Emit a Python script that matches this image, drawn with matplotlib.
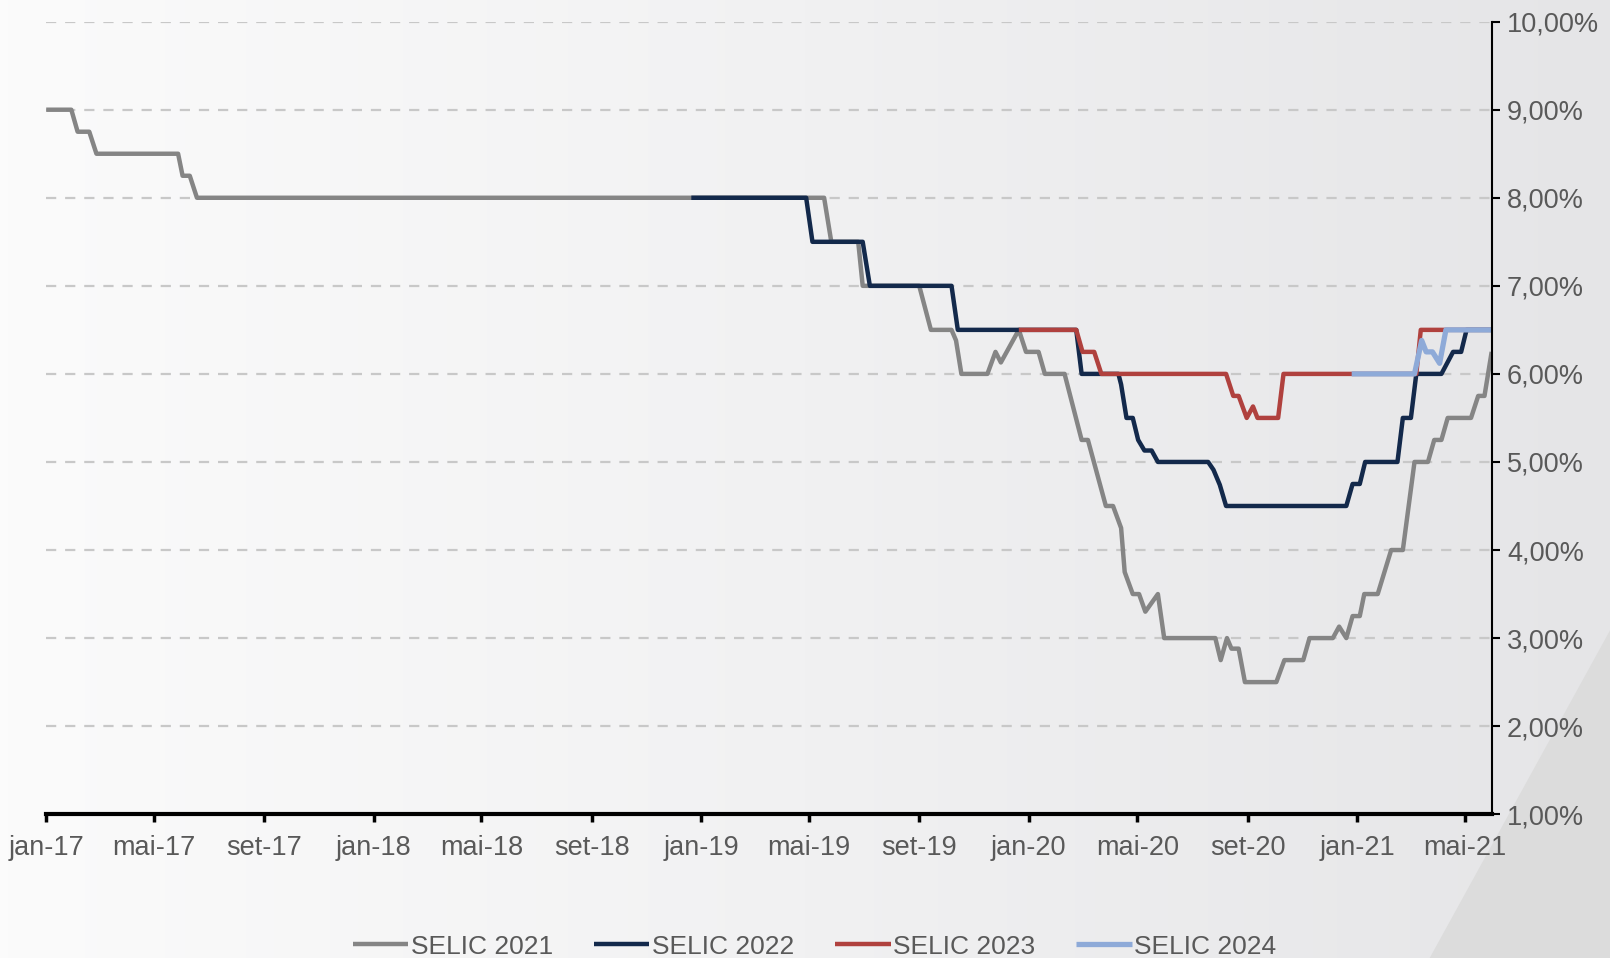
import matplotlib
matplotlib.use('Agg')
import numpy as np
import pandas as pd
import matplotlib.pyplot as plt
import matplotlib.dates as mdates
from matplotlib.patches import Polygon
from matplotlib.ticker import FuncFormatter, MultipleLocator

plt.rcParams['font.family'] = ['Liberation Sans', 'DejaVu Sans']

# Focus median expectations for SELIC at year end (% a.a.)
gray_dates = ['2017-01-01', '2017-01-29', '2017-02-05', '2017-02-18', '2017-02-26', '2017-05-28',
              '2017-06-02', '2017-06-10', '2017-06-18', '2019-05-18', '2019-05-26', '2019-06-25',
              '2019-06-30', '2019-09-01', '2019-09-14', '2019-10-07', '2019-10-12', '2019-10-18',
              '2019-11-16', '2019-11-25', '2019-12-01', '2019-12-21', '2019-12-29', '2020-01-12',
              '2020-01-19', '2020-02-10', '2020-02-29', '2020-03-07', '2020-03-27', '2020-04-04',
              '2020-04-13', '2020-04-17', '2020-04-26', '2020-05-03', '2020-05-10', '2020-05-24',
              '2020-05-31', '2020-07-27', '2020-08-02', '2020-08-09', '2020-08-14', '2020-08-22',
              '2020-08-29', '2020-10-03', '2020-10-12', '2020-11-02', '2020-11-09', '2020-12-05',
              '2020-12-12', '2020-12-20', '2020-12-27', '2021-01-04', '2021-01-09', '2021-01-24',
              '2021-02-08', '2021-02-21', '2021-03-06', '2021-03-21', '2021-03-28', '2021-04-05',
              '2021-04-12', '2021-05-08', '2021-05-16', '2021-05-23', '2021-05-31']
gray_vals = [9.0, 9.0, 8.75, 8.75, 8.5, 8.5, 8.25, 8.25, 8.0, 8.0, 7.5, 7.5, 7.0, 7.0, 6.5, 6.5,
             6.38, 6.0, 6.0, 6.25, 6.13, 6.5, 6.25, 6.25, 6.0, 6.0, 5.25, 5.25, 4.5, 4.5, 4.25,
             3.75, 3.5, 3.5, 3.3, 3.5, 3.0, 3.0, 2.75, 3.0, 2.88, 2.88, 2.5, 2.5, 2.75, 2.75, 3.0,
             3.0, 3.13, 3.0, 3.25, 3.25, 3.5, 3.5, 4.0, 4.0, 5.0, 5.0, 5.25, 5.25, 5.5, 5.5, 5.75,
             5.75, 6.25]

navy_dates = ['2018-12-21', '2019-04-28', '2019-05-05', '2019-06-30', '2019-07-08', '2019-10-07',
              '2019-10-14', '2020-02-23', '2020-02-29', '2020-04-10', '2020-04-13', '2020-04-19',
              '2020-04-26', '2020-05-02', '2020-05-09', '2020-05-17', '2020-05-24', '2020-07-19',
              '2020-07-25', '2020-08-01', '2020-08-08', '2020-12-20', '2020-12-27', '2021-01-04',
              '2021-01-10', '2021-02-15', '2021-02-21', '2021-03-02', '2021-03-08', '2021-04-05',
              '2021-04-18', '2021-04-27', '2021-05-03', '2021-05-31']
navy_vals = [8.0, 8.0, 7.5, 7.5, 7.0, 7.0, 6.5, 6.5, 6.0, 6.0, 5.88, 5.5, 5.5, 5.25, 5.13, 5.13,
             5.0, 5.0, 4.91, 4.74, 4.5, 4.5, 4.75, 4.75, 5.0, 5.0, 5.5, 5.5, 6.0, 6.0, 6.25, 6.25,
             6.5, 6.5]

red_dates = ['2019-12-21', '2020-02-23', '2020-03-01', '2020-03-14', '2020-03-22', '2020-08-08',
             '2020-08-16', '2020-08-22', '2020-08-31', '2020-09-07', '2020-09-12', '2020-10-05',
             '2020-10-11', '2021-03-08', '2021-03-13', '2021-05-31']
red_vals = [6.5, 6.5, 6.25, 6.25, 6.0, 6.0, 5.75, 5.75, 5.5, 5.63, 5.5, 5.5, 6.0, 6.0, 6.5, 6.5]

blue_dates = ['2020-12-26', '2021-03-06', '2021-03-14', '2021-03-19', '2021-03-26', '2021-04-03',
              '2021-04-10', '2021-05-31']
blue_vals = [6.0, 6.0, 6.38, 6.25, 6.25, 6.12, 6.5, 6.5]

series = [
    ('SELIC 2021', gray_dates, gray_vals, '#858585', 3.2),
    ('SELIC 2022', navy_dates, navy_vals, '#13294b', 3.2),
    ('SELIC 2023', red_dates, red_vals, '#b0413e', 3.2),
    ('SELIC 2024', blue_dates, blue_vals, '#8eaad8', 3.8),
]
months_pt = {1: 'jan', 5: 'mai', 9: 'set'}
text_color = '#595959'

fig = plt.figure(figsize=(16.1, 9.58), dpi=100)

# background gradient + diagonal shape bottom right
bg = fig.add_axes([0, 0, 1, 1], zorder=0)
grad = np.linspace(0, 1, 400)
cmap = matplotlib.colors.LinearSegmentedColormap.from_list('bg', ['#fbfbfb', '#f1f1f2', '#e5e5e7'])
bg.imshow(grad[None, :], aspect='auto', cmap=cmap, extent=[0, 1, 0, 1])
bg.add_patch(Polygon([(0.888, 0), (1, 0.342), (1, 0)], closed=True, color='#dcdcdc', lw=0))
bg.set_xlim(0, 1)
bg.set_ylim(0, 1)
bg.axis('off')

ax = fig.add_axes([0.0287, 0.1501, 0.8978, 0.8273], zorder=1)
ax.patch.set_alpha(0)

for name, d, v, c, lw in series:
    ax.plot(pd.to_datetime(d), v, color=c, lw=lw, label=name, solid_joinstyle='round',
            solid_capstyle='butt')

ax.set_xlim(pd.Timestamp('2017-01-01'), pd.Timestamp('2021-05-31'))
ax.set_ylim(1, 10)
ax.yaxis.set_major_locator(MultipleLocator(1))
ax.yaxis.set_major_formatter(FuncFormatter(lambda y, p: f'{y:.2f}%'.replace('.', ',')))
ax.yaxis.tick_right()
ax.xaxis.set_major_locator(mdates.MonthLocator(bymonth=[1, 5, 9]))
ax.xaxis.set_major_formatter(FuncFormatter(
    lambda x, p: f"{months_pt[mdates.num2date(x).month]}-{mdates.num2date(x).strftime('%y')}"))

ax.grid(axis='y', color='#c8c8c8', lw=1.6, linestyle=(0, (4.6, 4.0)))
ax.set_axisbelow(True)
for s in ['top', 'left']:
    ax.spines[s].set_visible(False)
ax.spines['bottom'].set_linewidth(3)
ax.spines['right'].set_linewidth(1.5)
ax.tick_params(axis='x', direction='out', length=6, width=2.5, colors='black',
               labelcolor=text_color, labelsize=19.5, pad=9)
ax.tick_params(axis='y', direction='out', length=6, width=1.5, colors='black',
               labelcolor=text_color, labelsize=19.5, pad=5, left=False, right=True)

leg = fig.legend(loc='center', bbox_to_anchor=(0.506, 0.012), ncol=4, frameon=False,
                 fontsize=19, handlelength=2.1, handletextpad=0.1, columnspacing=1.55)
for t in leg.get_texts():
    t.set_color(text_color)

fig.savefig('out.png', dpi=100)
